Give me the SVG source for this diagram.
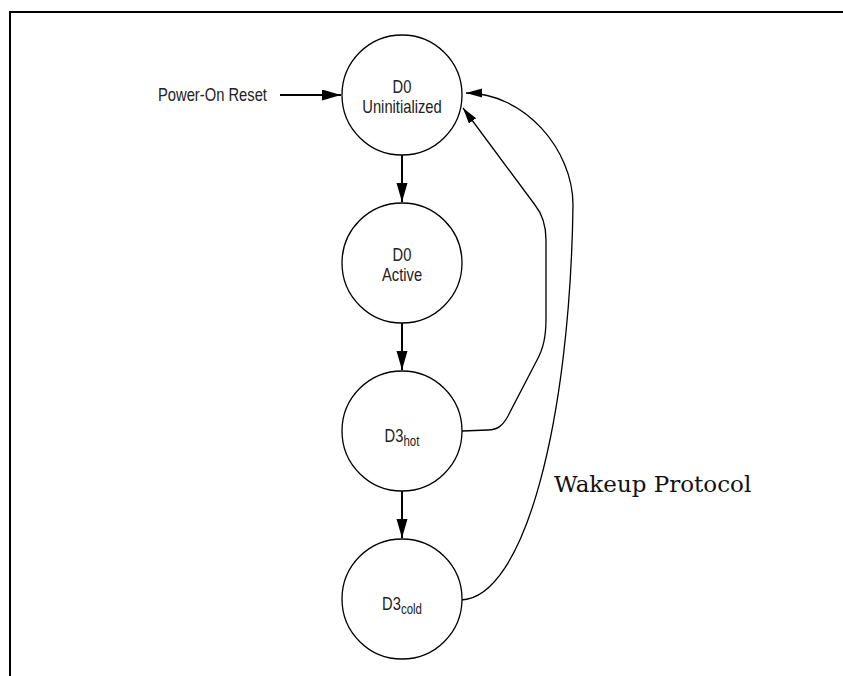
<svg xmlns="http://www.w3.org/2000/svg" width="843" height="676" viewBox="0 0 843 676">
<style>
.node circle{fill:#fff;stroke:#000;stroke-width:1.3}
.lbl{font-family:"Liberation Sans",Arial,sans-serif;font-size:18px;fill:#222;text-anchor:middle}
.sub{font-size:14px}
.thick{fill:none;stroke:#000;stroke-width:2}
.thin{fill:none;stroke:#000;stroke-width:1.3}
.frame{fill:none;stroke:#000;stroke-width:2}
</style>
<defs>
<marker id="ah" markerUnits="userSpaceOnUse" markerWidth="20" markerHeight="12" refX="19" refY="5.5" orient="auto">
<path d="M0,0 L19,5.5 L0,11 z" fill="#000"/>
</marker>
<marker id="ahs" markerUnits="userSpaceOnUse" markerWidth="17" markerHeight="10" refX="16" refY="4.5" orient="auto">
<path d="M0,0 L16,4.5 L0,9 z" fill="#000"/>
</marker>
</defs>
<path class="frame" d="M10,676 L10,12 L843,12"/>
<g id="connectors">
<path class="thick" d="M280,95 L341,95" marker-end="url(#ah)"/>
<path class="thick" d="M402,155 L402,202" marker-end="url(#ah)"/>
<path class="thick" d="M402,323 L402,370" marker-end="url(#ah)"/>
<path class="thick" d="M402,491 L402,538" marker-end="url(#ah)"/>
<path class="thin" d="M462,431 L488,430 C498,430 503,425 508,416 L536,362 C544,348 546,335 546,318 L546,240 C546,225 543,215 535,205 L463,108" marker-end="url(#ahs)"/>
<path class="thin" d="M461,600 C525,598 570,420 573,205 C573,150 525,93 466,93" marker-end="url(#ahs)"/>
</g>
<text class="lbl" transform="translate(158,101) scale(0.82,1)" style="text-anchor:start">Power-On Reset</text>
<g id="d0-uninit" class="node">
<circle cx="402" cy="95" r="60"/>
<text class="lbl" transform="translate(402,93) scale(0.82,1)">D0</text>
<text class="lbl" transform="translate(402,113) scale(0.82,1)">Uninitialized</text>
</g>
<g id="d0-active" class="node">
<circle cx="402" cy="263" r="60"/>
<text class="lbl" transform="translate(402,261) scale(0.82,1)">D0</text>
<text class="lbl" transform="translate(402,281) scale(0.82,1)">Active</text>
</g>
<g id="d3-hot" class="node">
<circle cx="402" cy="431" r="60"/>
<text class="lbl" transform="translate(402,442) scale(0.82,1)">D3<tspan class="sub" dy="4">hot</tspan></text>
</g>
<g id="d3-cold" class="node">
<circle cx="402" cy="599" r="60"/>
<text class="lbl" transform="translate(402,610) scale(0.82,1)">D3<tspan class="sub" dy="4">cold</tspan></text>
</g>
<text x="554" y="492" style="font-family:'DejaVu Serif','Liberation Serif',serif;font-size:23px;fill:#111">Wakeup Protocol</text>
</svg>
